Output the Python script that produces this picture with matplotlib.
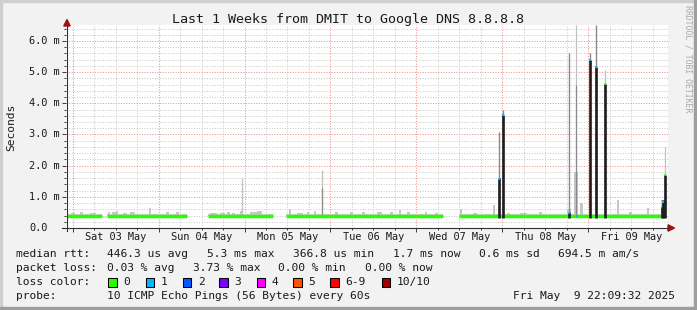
import numpy as np
import matplotlib
matplotlib.use('Agg')
import matplotlib.pyplot as plt
import matplotlib.transforms as mtransforms
from matplotlib.lines import Line2D
from matplotlib.patches import Polygon, Rectangle

W, H = 697, 310
MONO = 'DejaVu Sans Mono'

# time axis in days since Sat 03 May 00:00, rtt in ms
t_start, t_end = -0.0767, 6.923
day_labels = ['Sat 03 May', 'Sun 04 May', 'Mon 05 May', 'Tue 06 May',
              'Wed 07 May', 'Thu 08 May', 'Fri 09 May']
ytick_labels = ['0.0', '1.0 m', '2.0 m', '3.0 m', '4.0 m', '5.0 m', '6.0 m']

# median rtt, flat stretches (gaps = no data)
seg_start = [-0.070, 0.396, 1.575, 2.480, 4.500]
seg_end = [0.337, 1.327, 2.328, 4.307, 6.853]
seg_rtt = [0.39, 0.39, 0.39, 0.39, 0.39]

# light smoke bumps over the median
bump_t = [0.001, 0.100, 0.236, 0.423, 0.492, 0.512, 0.609, 0.696, 0.900, 1.104,
          1.220, 1.639, 1.744, 1.814, 1.872, 1.959, 2.105, 2.175, 2.530, 2.646,
          2.739, 2.821, 3.071, 3.246, 3.385, 3.572, 3.711, 3.810, 3.909, 4.113,
          4.235, 4.520, 4.683, 4.904, 5.073, 5.248, 5.440, 5.778, 5.853, 5.923,
          6.342, 6.488, 6.697, 6.866]
bump_top = [0.47, 0.50, 0.47, 0.52, 0.50, 0.55, 0.47, 0.50, 0.63, 0.50,
            0.52, 0.47, 0.47, 0.50, 0.47, 0.55, 0.50, 0.55, 0.60, 0.47,
            0.52, 0.55, 0.50, 0.50, 0.52, 0.50, 0.50, 0.58, 0.52, 0.52,
            0.47, 0.62, 0.47, 0.74, 0.47, 0.47, 0.50, 0.62, 1.80, 0.80,
            0.90, 0.50, 0.65, 0.90]
bump_hours = [1.1, 0.8, 1.7, 0.6, 1.7, 0.6, 1.1, 1.4, 0.6, 0.8,
              0.8, 2.0, 1.4, 0.8, 0.8, 0.8, 2.0, 1.4, 0.8, 1.7,
              0.6, 0.6, 0.8, 0.8, 0.8, 1.4, 0.8, 0.6, 0.8, 0.6,
              0.8, 0.6, 1.1, 0.6, 0.8, 2.0, 0.8, 1.1, 1.1, 0.8,
              0.6, 0.8, 0.6, 1.1]

# spikes: dark smoke top, mid-grey top, light-grey top
spike_t = [1.974, 2.906, 4.957, 5.009, 5.778, 5.853, 6.022, 6.092, 6.197,
           6.854, 6.872, 6.889]
spike_dark = [0.0, 0.0, 1.60, 3.63, 0.52, 0.46, 5.40, 5.17, 4.62, 0.68, 0.90, 1.70]
spike_mid = [0.0, 1.27, 3.09, 3.80, 5.61, 4.59, 5.62, 6.50, 4.62, 0.68, 0.90, 1.70]
spike_light = [1.60, 1.87, 3.09, 3.80, 5.61, 6.50, 5.62, 6.50, 5.07, 0.90, 0.90, 2.60]

# loss markers on the median
loss1_t = [4.957, 5.009, 5.778, 5.875, 6.022, 6.092, 6.872]
loss1_rtt = [1.57, 3.63, 0.48, 0.39, 5.40, 5.17, 0.82]
loss0_t = [6.197, 6.889]
loss0_rtt = [4.62, 1.70]

loss_names = ['0', '1', '2', '3', '4', '5', '6-9', '10/10']
loss_colors = ['#26ff00', '#00b8ff', '#0059ff', '#7e00ff', '#ff00ff',
               '#ff5500', '#ff0000', '#a10000']


def fx(x):
    return x / W


def fy(y):
    return 1 - y / H


fig = plt.figure(figsize=(W / 100, H / 100), dpi=100, facecolor='#f2f2f2')

# 3d-ish frame
fig.patches.append(Rectangle((0, fy(2)), 1, 2 / H, transform=fig.transFigure, color='#cfcfcf', zorder=0))
fig.patches.append(Rectangle((0, 0), 2 / W, 1, transform=fig.transFigure, color='#cfcfcf', zorder=0))
fig.patches.append(Rectangle((0, 0), 1, 3 / H, transform=fig.transFigure, color='#9e9e9e', zorder=0))
fig.patches.append(Rectangle((fx(W - 3), 0), 3 / W, 1, transform=fig.transFigure, color='#9e9e9e', zorder=0))

ax = fig.add_axes([fx(66.1), fy(228), (667.5 - 66.1) / W, (228 - 25.4) / H])
ax.set_facecolor('white')
ax.set_xlim(t_start, t_end)
ax.set_ylim(0, 6.5)
for s in ax.spines.values():
    s.set_visible(False)

# grid
ax.set_xticks(np.arange(0, 7))
ax.set_xticks(np.arange(0, 7, 0.25), minor=True)
ax.set_yticks(np.arange(0, 7))
ax.set_yticks(np.arange(0, 6.5, 0.2), minor=True)
ax.set_xticklabels([])
ax.set_yticklabels([])
ax.grid(which='major', color='#f08a8a', linestyle=(0, (1, 1.6)), linewidth=0.72)
ax.grid(which='minor', color='#c8c8c8', linestyle=(0, (1, 1.6)), linewidth=0.72)
ax.set_axisbelow(True)
ax.tick_params(which='major', length=3.2, width=0.72, color='#404040', direction='out')
ax.tick_params(which='minor', length=1.6, width=0.72, color='#404040', direction='out')

# smoke band just above the median
for a, b, v in zip(seg_start, seg_end, seg_rtt):
    ax.fill_between([a, b], v, v + 0.07, color='#d2d2d2', linewidth=0, zorder=2)

# bumps
bt = np.array(bump_t)
bw = np.array(bump_hours) / 24
ax.bar(bt, np.array(bump_top) - 0.35, width=bw, bottom=0.35, color='#c6c6c6',
       linewidth=0, zorder=2)

# spikes
st = np.array(spike_t)
ax.vlines(st, 0.35, spike_light, colors='#c0c0c0', linewidth=0.9, zorder=3)
mid = np.array(spike_mid)
m = mid > 0
ax.vlines(st[m], 0.35, mid[m], colors='#8a8a8a', linewidth=0.9, zorder=4)

# median line
for a, b, v in zip(seg_start, seg_end, seg_rtt):
    ax.plot([a, b], [v, v], color='#26ff00', linewidth=2.5, solid_capstyle='butt', zorder=5)

dark = np.array(spike_dark)
d = dark > 0.5
ax.vlines(st[d], 0.33, dark[d], colors='#1e1e1e', linewidth=1.9, zorder=6)

ax.scatter(loss1_t, loss1_rtt, marker='s', s=2.5, color='#00b8ff', linewidths=0, zorder=7)
ax.scatter(loss0_t, loss0_rtt, marker='s', s=2.5, color='#26ff00', linewidths=0, zorder=7)

# axis lines + arrows
fig.add_artist(Line2D([fx(67), fx(67)], [fy(231), fy(25)], color='#303030', linewidth=0.8))
fig.add_artist(Line2D([fx(62), fx(668)], [fy(228), fy(228)], color='#303030', linewidth=0.8))
fig.add_artist(Polygon([[fx(67), fy(19.5)], [fx(63.8), fy(26)], [fx(70.2), fy(26)]],
                       closed=True, transform=fig.transFigure, color='#a01010'))
fig.add_artist(Polygon([[fx(674.5), fy(228)], [fx(668), fy(224.8)], [fx(668), fy(231.2)]],
                       closed=True, transform=fig.transFigure, color='#a01010'))

# tick labels
ytr = mtransforms.blended_transform_factory(fig.transFigure, ax.transData)
for i, lab in enumerate(ytick_labels):
    fig.text(fx(29.3), i, lab, transform=ytr, fontsize=7.35, family=MONO,
             ha='left', va='center', color='#1a1a1a')
xtr = mtransforms.blended_transform_factory(ax.transData, fig.transFigure)
for i, lab in enumerate(day_labels):
    fig.text(i + 0.5, fy(237.5), lab, transform=xtr, fontsize=7.35, family=MONO,
             ha='center', va='center', color='#1a1a1a')

# title, y label, watermark
fig.text(fx(348), fy(19.3), 'Last 1 Weeks from DMIT to Google DNS 8.8.8.8',
         fontsize=9.6, family=MONO, ha='center', va='center', color='#1a1a1a')
fig.text(fx(11), fy(127), 'Seconds', rotation=90, fontsize=8.1, family=MONO,
         ha='center', va='center', color='#1a1a1a')
fig.text(fx(688), fy(5), 'RRDTOOL / TOBI OETIKER', rotation=-90, fontsize=5.9,
         family=MONO, ha='center', va='top', color='#a8a8a8')

# legend
LF = 8.1
rows = [
    (254.3, [('median rtt:', 16), ('446.3 us avg', 107.3), ('5.3 ms max', 207.3),
             ('366.8 us min', 293.3), ('1.7 ms now', 393.3), ('0.6 ms sd', 479.3),
             ('694.5 m am/s', 558.3)]),
    (268.3, [('packet loss:', 16), ('0.03 % avg', 107.3), ('3.73 % max', 193.3),
             ('0.00 % min', 278.3), ('0.00 % now', 365)]),
    (281.7, [('loss color:', 16)]),
    (296.0, [('probe:', 16), ('10 ICMP Echo Pings (56 Bytes) every 60s', 107.3),
             ('Fri May  9 22:09:32 2025', 513.3)]),
]
for y, items in rows:
    for s, x in items:
        fig.text(fx(x), fy(y), s, fontsize=LF, family=MONO, ha='left', va='center',
                 color='#1a1a1a')

box_x = [108.3, 145.7, 182.7, 219.3, 256.7, 293.3, 330.0, 381.7]
for bx, name, col in zip(box_x, loss_names, loss_colors):
    fig.patches.append(Rectangle((fx(bx), fy(286.5)), 8.5 / W, 9 / H,
                                 transform=fig.transFigure, facecolor=col,
                                 edgecolor='black', linewidth=0.75))
    fig.text(fx(bx + 15), fy(281.7), name, fontsize=LF, family=MONO, ha='left',
             va='center', color='#1a1a1a')

fig.savefig('out.png', dpi=100, facecolor=fig.get_facecolor())
